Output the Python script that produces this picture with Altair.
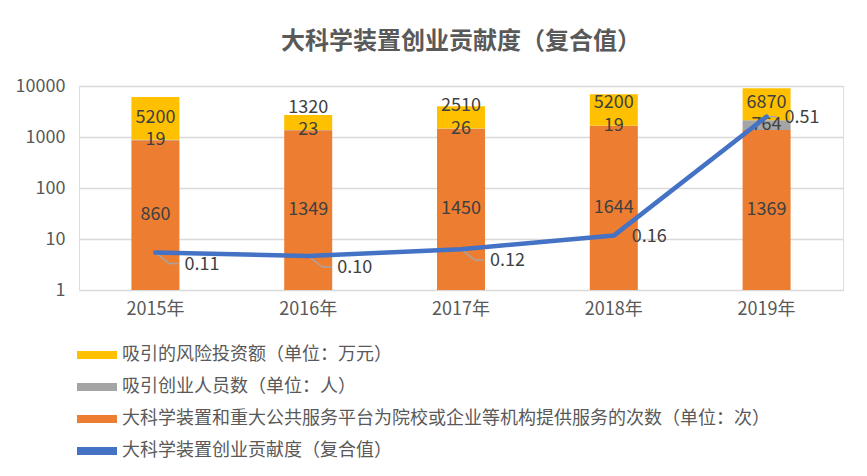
import math
import altair as alt
import pandas as pd

years = ["2015年", "2016年", "2017年", "2018年", "2019年"]
service = [860, 1349, 1450, 1644, 1369]
people = [19, 23, 26, 19, 764]
invest = [5200, 1320, 2510, 5200, 6870]
index_vals = [0.11, 0.10, 0.12, 0.16, 0.51]

S_INV = "吸引的风险投资额（单位：万元）"
S_PPL = "吸引创业人员数（单位：人）"
S_SRV = "大科学装置和重大公共服务平台为院校或企业等机构提供服务的次数（单位：次）"
S_IDX = "大科学装置创业贡献度（复合值）"
series_order = [S_INV, S_PPL, S_SRV, S_IDX]
series_colors = ["#FFC000", "#A5A5A5", "#ED7D31", "#4472C4"]

FONT = "Noto Sans CJK SC"

bar_rows, lab_rows = [], []
for yr, a, b, c in zip(years, service, people, invest):
    s0, s1 = 1, a
    g0, g1 = a, a + b
    y0, y1 = a + b, a + b + c
    bar_rows += [
        {"year": yr, "series": S_SRV, "lo": s0, "hi": s1},
        {"year": yr, "series": S_PPL, "lo": g0, "hi": g1},
        {"year": yr, "series": S_INV, "lo": y0, "hi": y1},
    ]
    m_s = math.sqrt(s0 * s1)
    m_g = math.sqrt(g0 * g1)
    m_y = max(math.sqrt(y0 * y1), m_g * 2.75)
    lab_rows += [
        {"year": yr, "pos": m_s, "txt": str(a)},
        {"year": yr, "pos": m_g, "txt": str(b)},
        {"year": yr, "pos": m_y, "txt": str(c)},
    ]
bars_df = pd.DataFrame(bar_rows)
labs_df = pd.DataFrame(lab_rows)
line_df = pd.DataFrame({
    "year": years,
    "v": index_vals,
    "series": S_IDX,
    "txt": [f"{v:.2f}" for v in index_vals],
    "leader": ["diag", "diag", "diag", "none", "flat"],
})

x_enc = alt.X("year:N", sort=years, title=None,
              axis=alt.Axis(labelAngle=0, ticks=False, domain=False, labelPadding=10,
                            labelFontSize=18, labelColor="#595959", labelFont=FONT, grid=False))
ylog = alt.Scale(type="log", domain=[1, 10000], nice=False)
ylin = alt.Scale(type="linear", domain=[0, 0.6], nice=False, zero=True)
color = alt.Color("series:N",
                  scale=alt.Scale(domain=series_order, range=series_colors),
                  legend=alt.Legend(orient="none", legendX=-2, legendY=249, direction="vertical",
                                    title=None, symbolType="M-1,-0.2H1V0.2H-1Z", symbolSize=1600,
                                    symbolStrokeWidth=0, labelFontSize=18, labelColor="#595959",
                                    labelFont=FONT, labelLimit=900, rowPadding=3, padding=0,
                                    labelOffset=5, symbolOpacity=1))

bars = alt.Chart(bars_df).mark_bar(size=48).encode(
    x=x_enc,
    y=alt.Y("hi:Q", scale=ylog, title=None,
            axis=alt.Axis(values=[1, 10, 100, 1000, 10000], format="d", ticks=False, domain=False,
                          labelPadding=14, labelFontSize=18, labelColor="#595959", labelFont=FONT,
                          gridColor="#d9d9d9", gridWidth=1.5)),
    y2="lo:Q",
    color=color,
    order=alt.Order("lo:Q"),
)

bar_text = alt.Chart(labs_df).mark_text(fontSize=18, color="#404040", font=FONT, baseline="middle").encode(
    x=x_enc,
    y=alt.Y("pos:Q", scale=ylog, axis=None),
    text="txt:N",
)

line = alt.Chart(line_df).mark_line(strokeWidth=4.5, strokeCap="round", strokeJoin="round").encode(
    x=x_enc,
    y=alt.Y("v:Q", scale=ylin, axis=None),
    color=color,
)

lead1a = alt.Chart(line_df).transform_filter("datum.leader == 'diag'").mark_rule(
    color="#A6A6A6", strokeWidth=1.5, x2Offset=14, y2Offset=11).encode(
    x=x_enc, y=alt.Y("v:Q", scale=ylin, axis=None), x2="year:N", y2="v:Q")
lead1b = alt.Chart(line_df).transform_filter("datum.leader == 'diag'").mark_rule(
    color="#A6A6A6", strokeWidth=1.5, xOffset=14, yOffset=11, x2Offset=23, y2Offset=11).encode(
    x=x_enc, y=alt.Y("v:Q", scale=ylin, axis=None), x2="year:N", y2="v:Q")
lead2 = alt.Chart(line_df).transform_filter("datum.leader == 'flat'").mark_rule(
    color="#A6A6A6", strokeWidth=1.5, x2Offset=10).encode(
    x=x_enc, y=alt.Y("v:Q", scale=ylin, axis=None), x2="year:N", y2="v:Q")

txt_diag = alt.Chart(line_df).transform_filter("datum.leader == 'diag'").mark_text(
    fontSize=18, color="#404040", font=FONT, align="left", baseline="middle", dx=29, dy=12).encode(
    x=x_enc, y=alt.Y("v:Q", scale=ylin, axis=None), text="txt:N")
txt_other = alt.Chart(line_df).transform_filter("datum.leader != 'diag'").mark_text(
    fontSize=18, color="#404040", font=FONT, align="left", baseline="middle", dx=18, dy=1).encode(
    x=x_enc, y=alt.Y("v:Q", scale=ylin, axis=None), text="txt:N")

chart = alt.layer(bars, bar_text, lead1a, lead1b, lead2, line, txt_diag, txt_other).resolve_scale(
    y="independent"
).properties(
    width=764, height=204,
    padding={"left": 71, "top": 78, "right": 16, "bottom": 178},
    autosize=alt.AutoSizeParams(type="none"),
    title=alt.Title(S_IDX, fontSize=24, fontWeight="bold", color="#595959", font=FONT,
                    anchor="middle", offset=23),
).configure_view(stroke=None).configure(background="white")

chart.save("out.html", embed_options={"renderer": "svg", "actions": False})
